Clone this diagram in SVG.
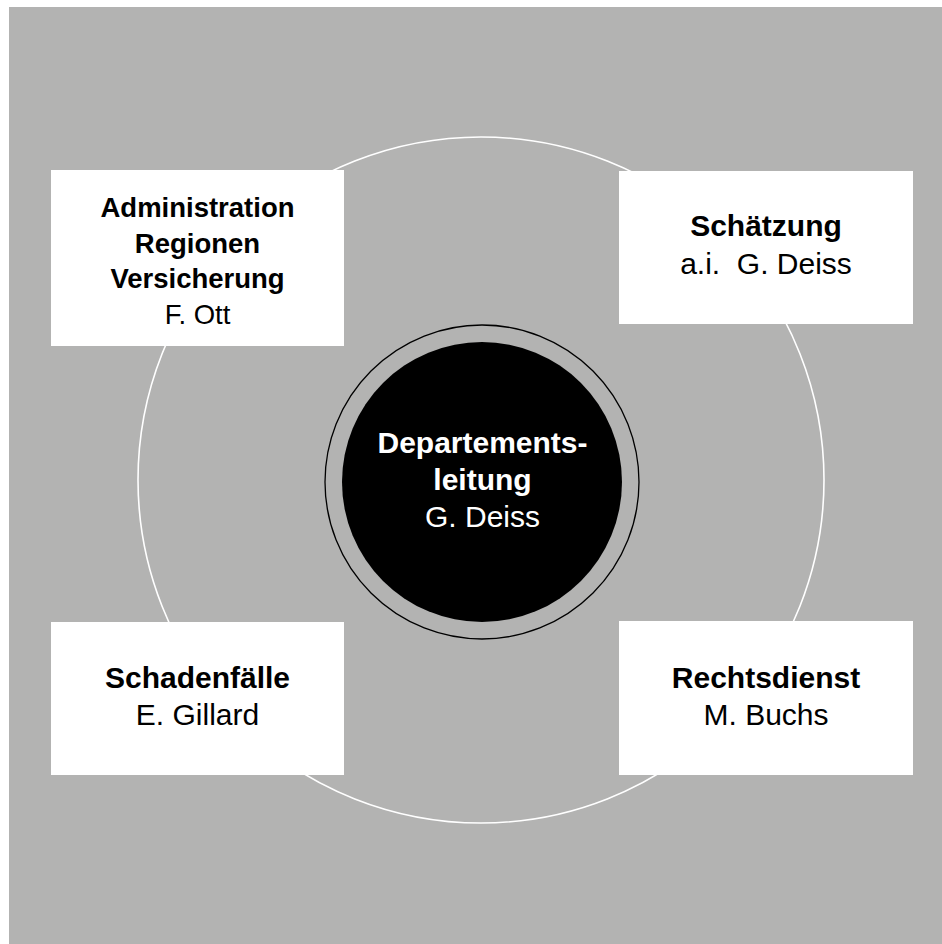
<svg xmlns="http://www.w3.org/2000/svg" width="942" height="944" viewBox="0 0 942 944">
<style>
.box{fill:#ffffff;}
.t{font-family:"Liberation Sans",Arial,Helvetica,sans-serif;text-anchor:middle;fill:#000000;}
.b{font-weight:bold;}
.c{fill:#ffffff;}
.s30{font-size:30px;}
.s28{font-size:27.5px;}
</style>
<rect x="0" y="0" width="942" height="944" fill="#ffffff"/>
<rect x="9" y="7" width="933" height="937" fill="#b3b3b2"/>
<g id="connectors">
<circle cx="481" cy="480" r="343" fill="none" stroke="#ffffff" stroke-width="1.6"/>
</g>
<g id="center">
<circle cx="482" cy="482" r="157" fill="none" stroke="#000000" stroke-width="1.3"/>
<circle cx="482" cy="482" r="140" fill="#000000"/>
<text class="t b c s30" x="482.5" y="453">Departements-</text>
<text class="t b c s30" x="482.5" y="490">leitung</text>
<text class="t c s30" x="482.5" y="527">G. Deiss</text>
</g>
<g id="administration">
<rect class="box" x="51" y="170" width="293" height="176"/>
<text class="t b s28" x="197.5" y="217">Administration</text>
<text class="t b s28" x="197.5" y="252.5">Regionen</text>
<text class="t b s28" x="197.5" y="288">Versicherung</text>
<text class="t s28" x="197.5" y="323.5">F. Ott</text>
</g>
<g id="schaetzung">
<rect class="box" x="619" y="171" width="294" height="153"/>
<text class="t b s30" x="766" y="236">Schätzung</text>
<text class="t s30" x="766" y="274" xml:space="preserve">a.i.  G. Deiss</text>
</g>
<g id="schadenfaelle">
<rect class="box" x="51" y="622" width="293" height="153"/>
<text class="t b s30" x="197.5" y="687.5">Schadenfälle</text>
<text class="t s30" x="197.5" y="725">E. Gillard</text>
</g>
<g id="rechtsdienst">
<rect class="box" x="619" y="621" width="294" height="154"/>
<text class="t b s30" x="766" y="688">Rechtsdienst</text>
<text class="t s30" x="766" y="725">M. Buchs</text>
</g>
</svg>
